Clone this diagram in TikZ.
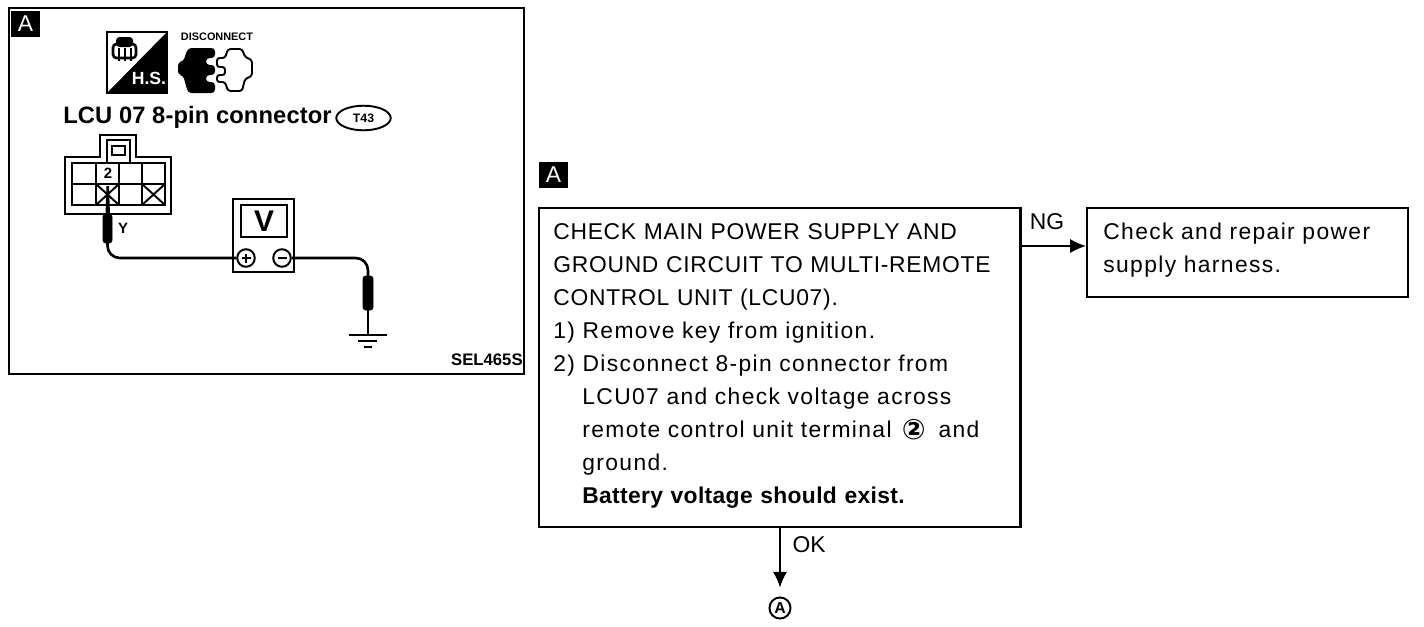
\documentclass[tikz,border=0pt]{standalone}
\usepackage{fontspec}
\setmainfont{Liberation Sans}
\newfontfamily\symfont{DejaVu Sans}
\usetikzlibrary{arrows.meta,positioning,shapes.geometric}
\newcommand{\bodytext}{\fontsize{13}{18.8}\selectfont\addfontfeatures{LetterSpace=6}}
\newcommand{\capsline}[1]{{\addfontfeatures{LetterSpace=3.2}#1}}
\begin{document}
\begin{tikzpicture}[x=0.02cm, y=-0.02cm,
      badge/.style={fill=black, text=white, inner sep=0pt, minimum width=16.5pt, minimum height=15pt, font=\fontsize{13}{13}\selectfont},
      flowbox/.style={draw, line width=1.4pt, anchor=north west, inner sep=0pt},
      arr/.style={-{Latex[length=9pt,width=8pt]}, line width=1pt},
      edge label/.style={font=\fontsize{13}{13}\selectfont},
      wire/.style={line width=1.5pt, rounded corners=7pt},
      probe/.style={fill=black, rounded corners=1.5pt},
      thinline/.style={line width=1.1pt}
    ]
      \useasboundingbox (0,0) rectangle (1424,626);

      % Left panel
      \node[draw, line width=1.2pt, anchor=north west, minimum width=293pt, minimum height=208.5pt, inner sep=0pt] (panel) at (8,7) {};
      \node[badge] (badgeL) at (25.5,24) {A};
      \node[font=\fontsize{13.5}{13.5}\selectfont\bfseries\addfontfeatures{LetterSpace=0.5}, anchor=west, inner sep=0pt] (lcu) at (63,117) {LCU 07 8-pin connector};
      \node[draw, ellipse, thinline, minimum width=31pt, minimum height=14pt, inner sep=0pt, font=\fontsize{7}{7}\selectfont\bfseries] (tool) at (363.5,118) {T43};
      \node[font=\fontsize{6.2}{6.2}\selectfont\bfseries, inner sep=0pt] (disc) at (217,37) {DISCONNECT};
      \node[font=\fontsize{9.5}{9.5}\selectfont\bfseries, inner sep=0pt, anchor=east] (sel) at (523,360) {SEL465S};

      % H.S. icon
      \draw[thinline] (107,32) rectangle (167,93);
      \fill (107,93) -- (167,32) -- (167,93) -- cycle;
      \node[text=white, font=\fontsize{10}{10}\selectfont\bfseries, inner sep=0pt] (hs) at (149,78) {H.S.};
      \draw[line width=1.5pt, fill=white, rounded corners=2pt] (113,44) rectangle (136,58);
      \fill[rounded corners=2pt] (116,37) rectangle (133,47);
      \foreach \x in {119,125,131} \draw[line width=1.3pt] (\x,48) -- (\x,61);

      % Plug
      \fill[rounded corners=2pt] (178,62) -- (183,62) -- (188,48) -- (215,48) -- (215,58) -- (206,58) -- (206,65) -- (215,65) -- (215,75) -- (206,75) -- (206,82) -- (215,82) -- (215,93) -- (188,93) -- (183,75) -- (178,75) -- cycle;
      \draw[thinline, rounded corners=1.5pt] (225,58) -- (228,49) -- (242,49) -- (245,57) -- (252,60) -- (252,76) -- (245,79) -- (242,91) -- (228,91) -- (225,82) -- (217,82) -- (217,75) -- (225,75) -- (225,67) -- (217,67) -- (217,58) -- cycle;

      % Connector
      \draw[thinline] (100,157) -- (100,135) -- (136,135) -- (136,157) -- (171,157) -- (171,214) -- (65,214) -- (65,157) -- cycle;
      \draw[thinline] (107,163) -- (107,140) -- (130,140) -- (130,163);
      \draw[thinline] (112,146) rectangle (125,155);
      \draw[thinline] (72,163) rectangle (165,205);
      \draw[thinline] (72,184) -- (165,184);
      \foreach \x in {96,119,142} \draw[thinline] (\x,163) -- (\x,205);
      \draw[thinline] (96,184) -- (119,205) (96,205) -- (119,184);
      \draw[thinline] (142,184) -- (165,205) (142,205) -- (165,184);
      \node[fill=white, font=\fontsize{8.5}{8.5}\selectfont\bfseries, inner sep=0.5pt] (pin) at (108,173) {2};
      \node[font=\fontsize{8.5}{8.5}\selectfont\bfseries, inner sep=0pt] (ylabel) at (123,228) {Y};
      \fill (105.5,215) -- (106.5,186) -- (109,186) -- (110,215) -- cycle;

      % Meter
      \draw[line width=1.3pt] (233,199) rectangle (294,272);
      \node[draw, line width=1.1pt, minimum width=26pt, minimum height=18.5pt, inner sep=0pt, font=\fontsize{17}{17}\selectfont\bfseries] (vdisplay) at (264,221) {V};
      \node[draw, circle, thinline, fill=white, minimum size=10pt, inner sep=0pt] (plus) at (246,258) {};
      \node[draw, circle, thinline, fill=white, minimum size=10pt, inner sep=0pt] (minus) at (282,258) {};
      \draw[line width=1.2pt] (241.5,258) -- (250.5,258) (246,253.5) -- (246,262.5);
      \draw[line width=1.2pt] (277.5,258) -- (286.5,258);

      % Wires
      \coordinate (gnd) at (368,335);
      \draw[wire] (107.5,240) -- (107.5,258) -- (plus);
      \draw[wire] (minus) -- (368,258) -- (368,280);
      \draw[line width=1.5pt] (368,305) -- (gnd);
      \draw[probe] (103,214) rectangle (112,243);
      \draw[probe] (363,276) rectangle (373,310);
      \draw[line width=1.2pt] (349,335) -- (387,335);
      \draw[line width=1.2pt] (358,341) -- (377,341);
      \draw[line width=1.5pt] (364,347) -- (372,347);

      % Flow boxes
      \node[badge] (badgeR) at (553.5,175) {A};
      \node[flowbox, minimum width=274pt, minimum height=181.5pt] (check) at (538,207) {};
      \node[anchor=north west, inner sep=0pt, text width=265pt, align=left, font=\bodytext] (checktext) at (553,223) {%
        \capsline{CHECK MAIN POWER SUPPLY AND}\\
        \capsline{GROUND CIRCUIT TO MULTI-REMOTE}\\
        \capsline{CONTROL UNIT (LCU07).}\\
        1) Remove key from ignition.\\
        2) Disconnect 8-pin connector from\\
        \hspace*{16.5pt}LCU07 and check voltage across\\
        \hspace*{16.5pt}remote control unit terminal\hspace{1.5pt} \smash{\raisebox{-1pt}{\symfont\bfseries\fontsize{16}{16}\selectfont ②}}\hspace{3pt} and\\
        \hspace*{16.5pt}ground.\\
        \hspace*{16.5pt}{\addfontfeatures{LetterSpace=1.5}\textbf{Battery voltage should exist.}}};
      \node[draw, thinline, anchor=north west, minimum width=182.5pt, minimum height=50.5pt, inner sep=0pt] (repair) at (1086,207) {};
      \node[anchor=north west, inner sep=0pt, text width=175pt, align=left, font=\bodytext] (repairtext) at (1103,223) {%
        Check and repair power\\
        supply harness.};
      \node[draw, circle, thinline, minimum size=12pt, inner sep=0pt, font=\fontsize{9}{9}\selectfont\bfseries] (refA) at (780,608) {A};

      % Transitions
      \coordinate (ngport) at (1086,246);
      \draw[arr] (check.east |- ngport) -- (ngport);
      \node[edge label, inner sep=0pt] (nglabel) at (1047,222) {NG};
      \draw[arr] (check.south -| refA) -- ([yshift=5pt]refA.north);
      \node[edge label, inner sep=0pt] (oklabel) at (809,545) {OK};
    \end{tikzpicture}
\end{document}
